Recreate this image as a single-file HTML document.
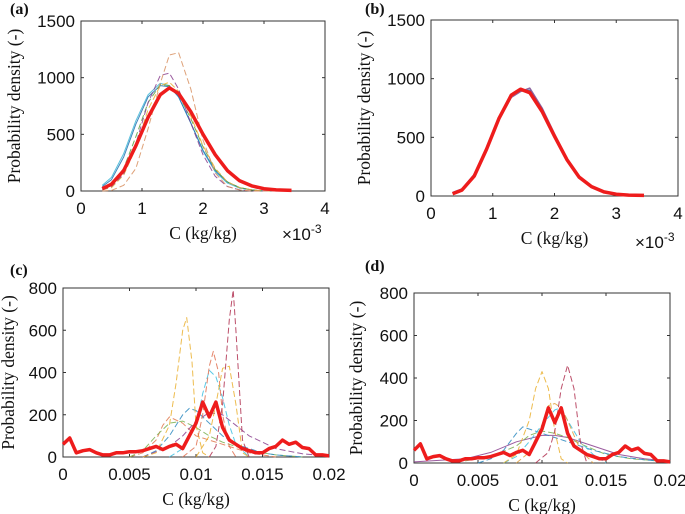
<!DOCTYPE html>
<html><head><meta charset="utf-8"><style>
body{margin:0;background:#fff;width:685px;height:514px;overflow:hidden}
svg{display:block}
.tk{font-family:"Liberation Sans",Arial,sans-serif;font-size:17px;fill:#111}
.lb{font-family:"Liberation Serif",serif;font-size:17.5px;fill:#111}
.pl{font-family:"Liberation Serif",serif;font-size:16px;font-weight:bold;fill:#111}
</style></head><body>
<svg id="fig" width="685" height="514" xmlns="http://www.w3.org/2000/svg"></svg>
<script>
// ---- data: panels a & b (x in 1e-3 kg/kg) ----
const abX = [0.35,0.5,0.7,0.9,1.1,1.3,1.45,1.6,1.8,2.0,2.2,2.4,2.6,2.8,3.0,3.2,3.45];
const aRed = [20,60,180,400,650,850,910,860,700,500,320,180,90,45,20,10,5];
const aCyan = [50,120,330,620,850,950,930,830,600,350,170,70,25,10,0,0,0];
const aOrange = [0,5,50,200,550,950,1200,1220,900,450,160,40,10,0,0,0,0];
const aPurple = [10,40,150,420,780,1020,1040,900,600,320,130,40,10,0,0,0,0];
const aBlue = [40,100,300,590,830,930,920,830,600,360,180,80,30,10,0,0,0];
const aYellow = [10,30,140,380,720,930,960,880,660,400,200,80,30,10,0,0,0];
const aGreen = [20,60,200,480,780,940,930,850,640,390,190,80,30,10,0,0,0];
const bRed = [20,50,170,400,660,860,910,880,720,510,310,160,80,35,15,8,5];
const bBlue = [25,55,180,410,670,860,900,900,740,520,310,160,80,35,15,8,5];
const bYellow = [20,50,175,405,660,850,905,890,730,515,305,155,78,33,14,7,4];
const bPurple = [30,60,185,400,650,840,890,920,750,530,320,165,82,36,15,8,5];
const abTicksX = [0,1,2,3,4];
const abTicksY = [0,500,1000,1500];
// ---- data: panel c & d (x in kg/kg) ----
const cdTicksX = [0,0.005,0.01,0.015,0.02];
const cdTickLabels = ["0","0.005","0.01","0.015","0.02"];
const cdTicksY = [0,200,400,600,800];
const redX = [0,0.0005,0.001,0.0015,0.002,0.0025,0.003,0.0035,0.004,0.0045,0.005,0.0055,0.006,0.0065,0.007,0.0075,0.008,0.0085,0.009,0.0095,0.01,0.0105,0.011,0.0115,0.012,0.0125,0.013,0.0135,0.014,0.0145,0.015,0.0155,0.016,0.0165,0.017,0.0175,0.018,0.0185,0.019,0.0195,0.02];
const redY = [60,90,20,30,35,20,10,10,20,20,25,25,30,40,50,35,50,60,40,100,160,260,190,260,140,80,60,40,30,20,20,40,50,80,60,70,45,40,10,10,5];
const cYelX=[0.006,0.007,0.008,0.0085,0.009,0.0093,0.0097,0.01,0.0105,0.011], cYelY=[0,20,150,350,600,660,450,150,20,0];
const cDredX=[0.011,0.0115,0.012,0.0125,0.0128,0.013,0.0135,0.014], cDredY=[0,50,250,650,790,600,80,0];
const cOrX=[0.009,0.01,0.0105,0.011,0.0113,0.0117,0.012,0.0125,0.013], cOrY=[0,50,200,430,500,400,200,50,0];
const cCyX=[0.008,0.009,0.01,0.0105,0.011,0.0115,0.012,0.0125,0.013,0.014], cCyY=[0,40,150,300,410,380,280,150,60,0];
const cYel2X=[0.01,0.011,0.0115,0.012,0.0125,0.013,0.0135,0.014], cYel2Y=[0,100,250,420,430,250,20,0];
const cBrX=[0.005,0.006,0.007,0.0075,0.008,0.009,0.01,0.011,0.012,0.013,0.014,0.015,0.016], cBrY=[0,20,80,150,190,160,100,80,60,40,20,10,0];
const cBlX=[0.006,0.007,0.008,0.009,0.0095,0.01,0.011,0.012,0.013,0.014,0.015,0.016,0.018], cBlY=[0,30,100,200,230,220,160,100,60,40,20,10,0];
const cGrX=[0.005,0.006,0.007,0.008,0.009,0.01,0.011,0.012,0.013,0.014,0.016,0.018], cGrY=[0,30,100,160,170,140,100,70,50,30,10,0];
const cPuX=[0.006,0.008,0.009,0.01,0.011,0.012,0.013,0.014,0.015,0.016,0.018,0.02], cPuY=[0,50,100,170,210,200,150,100,70,40,15,5];
const dYelX=[0.007,0.008,0.009,0.0095,0.01,0.0105,0.011,0.0115,0.012], dYelY=[0,40,200,350,430,350,150,20,0];
const dDredX=[0.0095,0.0105,0.011,0.0115,0.012,0.0125,0.013,0.0135], dDredY=[0,50,150,350,460,350,100,0];
const dOrX=[0.008,0.009,0.01,0.0105,0.011,0.0115,0.012,0.013,0.014], dOrY=[0,50,180,270,280,260,200,60,0];
const dCyX=[0.007,0.008,0.009,0.01,0.011,0.0115,0.012,0.013,0.014,0.015], dCyY=[0,30,100,180,250,260,200,100,40,0];
const dBlX=[0.005,0.006,0.007,0.008,0.0085,0.009,0.01,0.011,0.012,0.014,0.016,0.018,0.02], dBlY=[0,20,60,140,170,160,140,120,100,60,30,15,5];
const dPuX=[0,0.004,0.006,0.008,0.01,0.011,0.012,0.014,0.016,0.018,0.02], dPuY=[5,20,50,100,130,130,120,80,40,20,8];
const dGrX=[0.004,0.006,0.008,0.009,0.01,0.011,0.012,0.013,0.015,0.017,0.02], dGrY=[10,30,80,130,150,140,120,90,40,20,5];

const NS="http://www.w3.org/2000/svg";
const svg=document.getElementById('fig');
function mk(tag,attrs,parent,text){const e=document.createElementNS(NS,tag);for(const k in attrs)e.setAttribute(k,attrs[k]);if(text!==undefined)e.textContent=text;(parent||svg).appendChild(e);return e;}

function panel(p){
  const g=mk('g',{});
  
  
  const sx=v=>p.x0+(v-p.xmin)/(p.xmax-p.xmin)*(p.x1-p.x0);
  const sy=v=>p.y1-(v/p.ymax)*(p.y1-p.y0);
  const box=mk('rect',{x:p.x0,y:p.y0,width:p.x1-p.x0,height:p.y1-p.y0,fill:'none',stroke:'#333','stroke-width':1},g);
  
  
  p.tx.forEach((t,i)=>{
    mk('line',{x1:sx(t),x2:sx(t),y1:p.y1,y2:p.y1-3,stroke:'#333'},g);
    mk('line',{x1:sx(t),x2:sx(t),y1:p.y0,y2:p.y0+3,stroke:'#333'},g);
    const tl=mk('text',{x:sx(t),y:p.y1+23,'text-anchor':'middle',class:'tk'},g,p.txl[i]);
    
    
  });
  p.ty.forEach(t=>{
    mk('line',{x1:p.x0,x2:p.x0+3,y1:sy(t),y2:sy(t),stroke:'#333'},g);
    mk('line',{x1:p.x1,x2:p.x1-3,y1:sy(t),y2:sy(t),stroke:'#333'},g);
    const tl=mk('text',{x:p.x0-6,y:sy(t)+6,'text-anchor':'end',class:'tk'},g,String(t));
    
    
  });
  p.series.forEach(s=>{
    const pts=s.x.map((v,i)=>sx(v).toFixed(1)+','+sy(s.y[i]).toFixed(1)).join(' ');
    const l=mk('polyline',{points:pts,fill:'none',stroke:s.c,'stroke-width':s.w||1,'stroke-dasharray':s.d||'none','stroke-linejoin':'round',opacity:s.o||0.85},g);
    
    
  });
  const xl=mk('text',{x:(p.x0+p.x1)/2,y:p.y1+48,'text-anchor':'middle',class:'lb'},g,'C (kg/kg)');
  
  
  const yl=mk('text',{x:0,y:0,'text-anchor':'middle',class:'lb',transform:`translate(${p.ylx},${(p.y0+p.y1)/2}) rotate(-90)`},g,'Probability density (-)');
  
  
  const pl=mk('text',{x:p.lx,y:p.ly,class:'pl'},g,'('+p.id+')');
  
  
  if(p.exp){
    const e=mk('text',{x:p.ex,y:p.ey,class:'tk','font-size':'15',fill:'#555'},g);
    
    
    e.innerHTML='×10<tspan dy="-7" font-size="12">-3</tspan>';
  }
}
const D='6,3';
panel({id:'a',x0:81,x1:325,y0:21,y1:191,xmin:0,xmax:4,ymax:1500,tx:abTicksX,txl:abTicksX.map(String),ty:abTicksY,ylx:20,lx:10,ly:14,exp:true,ex:282,ey:240,series:[
 {x:abX,y:aCyan,c:'#3bb6d6',n:'cyan-series'},
 {x:abX,y:aBlue,c:'#1f6fb0',n:'blue-series'},
 {x:abX,y:aGreen,c:'#5aa040',n:'green-series',d:D},
 {x:abX,y:aYellow,c:'#e8b030',n:'yellow-series',d:D},
 {x:abX,y:aPurple,c:'#8a3e8e',n:'purple-series',d:D},
 {x:abX,y:aOrange,c:'#d89060',n:'orange-series',d:D},
 {x:abX,y:aRed,c:'#ee1c1c',w:3.5,o:1,n:'red-mean-series'}]});
panel({id:'b',x0:431,x1:678,y0:20,y1:196,xmin:0,xmax:4,ymax:1500,tx:abTicksX,txl:abTicksX.map(String),ty:abTicksY,ylx:370,lx:365,ly:14,exp:true,ex:635,ey:248,series:[
 {x:abX,y:bBlue,c:'#3050a0',w:1.5,n:'blue-series'},
 {x:abX,y:bPurple,c:'#7a4a8e',w:1.5,n:'purple-series'},
 {x:abX,y:bYellow,c:'#e8b030',w:1.5,n:'yellow-series'},
 {x:abX,y:bRed,c:'#ee1c1c',w:3.5,o:1,n:'red-mean-series'}]});
panel({id:'c',x0:63,x1:329,y0:288,y1:457,xmin:0,xmax:0.02,ymax:800,tx:cdTicksX,txl:cdTickLabels,ty:cdTicksY,ylx:14,lx:10,ly:275,series:[
 {x:cBrX,y:cBrY,c:'#e07a50',d:D,n:'orange-broad-series'},
 {x:cGrX,y:cGrY,c:'#7ab050',d:D,n:'green-series'},
 {x:cBlX,y:cBlY,c:'#2d8ac0',d:D,n:'blue-series'},
 {x:cPuX,y:cPuY,c:'#8a3e8e',d:D,n:'purple-series'},
 {x:cYelX,y:cYelY,c:'#eab030',d:D,n:'yellow-series'},
 {x:cCyX,y:cCyY,c:'#40c0e0',d:D,n:'cyan-series'},
 {x:cOrX,y:cOrY,c:'#e07050',d:D,n:'orange-series'},
 {x:cYel2X,y:cYel2Y,c:'#eab030',d:D,n:'yellow2-series'},
 {x:cDredX,y:cDredY,c:'#b03050',d:D,n:'darkred-series'},
 {x:redX,y:redY,c:'#ee1c1c',w:3.5,o:1,n:'red-mean-series'}]});
panel({id:'d',x0:414,x1:670,y0:293,y1:463,xmin:0,xmax:0.02,ymax:800,tx:cdTicksX,txl:cdTickLabels,ty:cdTicksY,ylx:362,lx:365,ly:271,series:[
 {x:dPuX,y:dPuY,c:'#8a3e8e',n:'purple-series'},
 {x:dGrX,y:dGrY,c:'#7ab050',d:D,n:'green-series'},
 {x:dBlX,y:dBlY,c:'#2d8ac0',d:D,n:'blue-series'},
 {x:dCyX,y:dCyY,c:'#40c0e0',d:D,n:'cyan-series'},
 {x:dOrX,y:dOrY,c:'#e0a040',d:D,n:'orange-series'},
 {x:dYelX,y:dYelY,c:'#eab030',d:D,n:'yellow-series'},
 {x:dDredX,y:dDredY,c:'#b03050',d:D,n:'darkred-series'},
 {x:redX,y:redY,c:'#ee1c1c',w:3.5,o:1,n:'red-mean-series'}]});
</script>
</body></html>
